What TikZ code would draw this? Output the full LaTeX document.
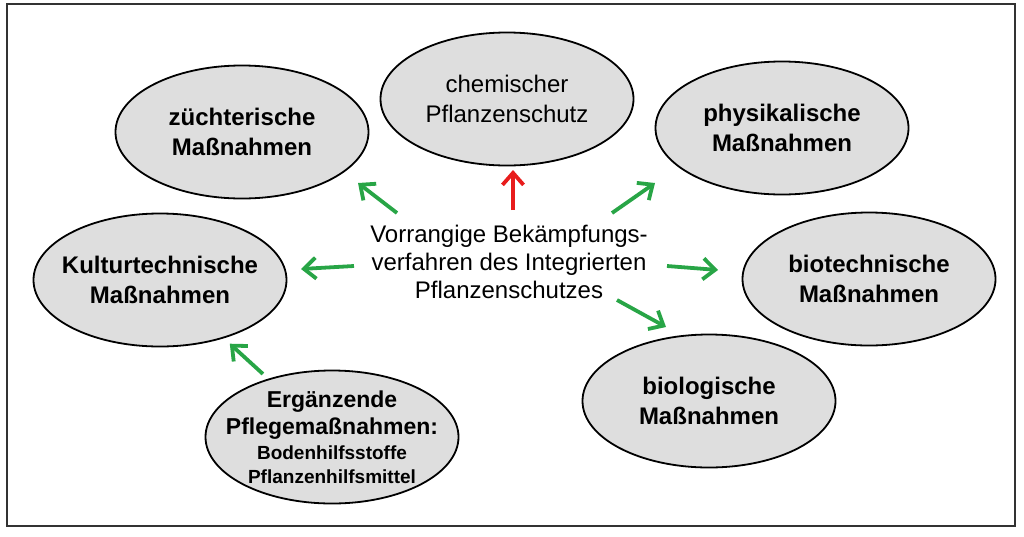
\documentclass[tikz,border=0pt]{standalone}
\usepackage{fontspec}
\setmainfont{Liberation Sans}
\usetikzlibrary{shapes.geometric,arrows.meta}

\definecolor{grau}{RGB}{222,222,222}
\definecolor{gruen}{RGB}{40,165,70}
\definecolor{rot}{RGB}{232,28,28}
\definecolor{rahmen}{RGB}{50,50,50}

\begin{document}
\begin{tikzpicture}[x=1pt,y=-1pt,
	mass/.style={ellipse, draw, line width=1.8pt, fill=grau, minimum width=253pt, minimum height=133pt, inner xsep=-30pt, inner ysep=-15pt, align=center, font=\bfseries\fontsize{24}{30}\selectfont},
	pfeil/.style={line width=3.8pt, draw=gruen, -{Straight Barb[length=12pt,width=21pt]}}]

	\useasboundingbox (0,0) rectangle (1024,536);
	\draw[rahmen, line width=2.5pt] (7,4) rectangle (1015,526);

	\node[align=center, font=\fontsize{24}{28}\selectfont] (vorr) at (509,262) {Vorrangige Bekämpfungs-\\verfahren des Integrierten\\Pflanzenschutzes};

	\node[mass] (zucht) at (242,132) {züchterische\\Maßnahmen};
	\node[mass, font=\fontsize{24}{30}\selectfont] (chem) at (507,99) {chemischer\\Pflanzenschutz};
	\node[mass] (phys) at (782,128) {physikalische\\Maßnahmen};
	\node[mass] (kultur) at (160,280) {Kulturtechnische\\Maßnahmen};
	\node[mass] (biotech) at (869,279) {biotechnische\\Maßnahmen};
	\node[mass] (biolog) at (709,401) {biologische\\Maßnahmen};
	\node[mass, font=\bfseries\fontsize{23}{27}\selectfont] (pflege) at (332,437) {Ergänzende\\Pflegemaßnahmen:\\[-2pt]{\fontsize{19}{23}\selectfont Bodenhilfsstoffe}\\[-3pt]{\fontsize{19}{23}\selectfont Pflanzenhilfsmittel}};

	% Pfeile
	\coordinate (a-zucht) at (397,213);	\coordinate (b-zucht) at (358,183);
	\coordinate (a-chem) at (513,210);	\coordinate (b-chem) at (513,170);
	\coordinate (a-phys) at (612,213);	\coordinate (b-phys) at (655,183);
	\coordinate (a-kultur) at (354,266);	\coordinate (b-kultur) at (301,269);
	\coordinate (a-biotech) at (667,266);	\coordinate (b-biotech) at (718,270);
	\coordinate (a-biolog) at (617,300);	\coordinate (b-biolog) at (666,327);

	\foreach \z in {zucht, phys, kultur, biotech, biolog}{
		\draw[pfeil] (a-\z) -- (b-\z);
	}
	\draw[pfeil, draw=rot] (a-chem) -- (b-chem);
	\draw[pfeil, shorten <=7pt, shorten >=8pt] (pflege) -- (kultur);

\end{tikzpicture}
\end{document}
